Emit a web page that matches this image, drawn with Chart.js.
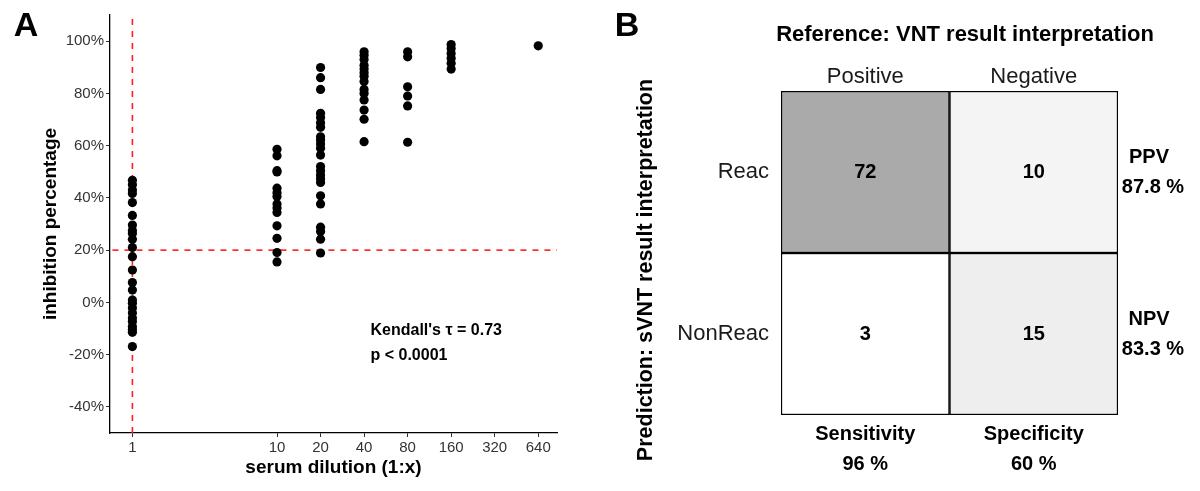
<!DOCTYPE html>
<html><head><meta charset="utf-8">
<script src="https://cdn.jsdelivr.net/npm/chart.js@4.4.1/dist/chart.umd.min.js"></script>
<style>
html,body{margin:0;padding:0;background:#fff;}
#wrap{position:relative;width:1200px;height:491px;overflow:hidden;}
#pa{position:absolute;left:0;top:0;width:600px;height:491px;}
#pb{position:absolute;left:600px;top:0;width:600px;height:491px;}
</style></head><body>
<div id="wrap">
<div id="pa"><canvas id="ca" width="600" height="491"></canvas></div>
<div id="pb"><canvas id="cb" width="600" height="491"></canvas></div>
</div>
<script>
const FONT = "'Liberation Sans', Arial, Helvetica, sans-serif";

// ---------- Panel A data ----------
const dilutions = [1, 10, 20, 40, 80, 160, 640];
const inhib_1   = [46.7, 45.0, 43.0, 41.7, 38.2, 33.3, 29.6, 27.5, 26.4, 24.2, 21.0, 17.5, 12.4, 7.6, 4.7, 0.9, -0.3, -2.2, -4.1, -6.0, -7.3, -9.2, -10.4, -11.4, -16.9];
const inhib_10  = [58.6, 56.1, 50.4, 49.9, 43.7, 42.0, 40.5, 37.7, 36.1, 34.4, 29.3, 24.5, 19.1, 15.5];
const inhib_20  = [89.9, 86.0, 81.5, 72.4, 70.8, 68.8, 67.0, 63.4, 62.2, 60.6, 59.0, 56.4, 52.0, 50.4, 48.8, 47.3, 45.9, 40.8, 37.7, 28.8, 27.1, 24.2, 18.9];
const inhib_40  = [95.9, 94.6, 93.0, 90.8, 89.3, 87.9, 86.6, 84.5, 81.5, 80.0, 77.5, 73.6, 70.1, 61.5];
const inhib_80  = [95.9, 94.0, 82.5, 79.0, 75.2, 61.3];
const inhib_160 = [98.7, 97.2, 95.3, 93.4, 91.5, 89.3];
const inhib_640 = [98.2];
const xTickValues = [1, 10, 20, 40, 80, 160, 320, 640];
const yTickValues = [-40, -20, 0, 20, 40, 60, 80, 100];
const cutoffDilution = 1;
const cutoffInhibition = 20;
const statLines = ["Kendall's \u03C4 = 0.73", "p < 0.0001"];
const statPosX = 44.3;
const statPosY = [-10.7, -20.3];

// ---------- Panel B data ----------
const refCats  = ['Positive', 'Negative'];
const predCats = ['Reac', 'NonReac'];
const counts   = [[72, 10], [3, 15]];           // rows: prediction, cols: reference
const cellFill = [['#aaaaaa', '#f4f4f4'], ['#ffffff', '#eeeeee']];
const rowStats = [['PPV', '87.8 %'], ['NPV', '83.3 %']];
const colStats = [['Sensitivity', '96 %'], ['Specificity', '60 %']];

// ---------- Panel A chart ----------
const groups = [inhib_1, inhib_10, inhib_20, inhib_40, inhib_80, inhib_160, inhib_640];
const pts = [];
groups.forEach((arr, i) => arr.forEach(v => pts.push({x: dilutions[i], y: v})));
const xMin = 0.728, xMax = 863, yMin = -50, yMax = 110;

const annA = {
  id: 'annA',
  afterDraw(chart) {
    const ctx = chart.ctx, xs = chart.scales.x, ys = chart.scales.y;
    ctx.save();
    ctx.fillStyle = '#000';
    ctx.textAlign = 'center'; ctx.textBaseline = 'middle';
    ctx.font = `bold 34px ${FONT}`;
    ctx.fillText('A', 26, 27);
    ctx.font = `bold 16px ${FONT}`;
    ctx.textAlign = 'left';
    statLines.forEach((t, i) => ctx.fillText(t, xs.getPixelForValue(statPosX), ys.getPixelForValue(statPosY[i])));
    ctx.restore();
  }
};

new Chart(document.getElementById('ca'), {
  type: 'scatter',
  data: {
    datasets: [
      { type: 'scatter', data: pts, backgroundColor: '#000', borderColor: '#000', pointRadius: 4.6, pointHoverRadius: 4.6, borderWidth: 0, order: 0 },
      { type: 'line', data: [{x: cutoffDilution, y: yMin}, {x: cutoffDilution, y: yMax}], borderColor: '#ff2020', borderWidth: 1.6, borderDash: [6, 6], pointRadius: 0, fill: false, order: 1 },
      { type: 'line', data: [{x: xMin, y: cutoffInhibition}, {x: xMax, y: cutoffInhibition}], borderColor: '#ff2020', borderWidth: 1.6, borderDash: [6, 6], pointRadius: 0, fill: false, order: 1 }
    ]
  },
  options: {
    responsive: false, animation: false, devicePixelRatio: 1,
    layout: { padding: { left: 0, top: 15, right: 43, bottom: 0 } },
    plugins: { legend: { display: false }, tooltip: { enabled: false } },
    scales: {
      x: {
        type: 'logarithmic', min: xMin, max: xMax,
        afterBuildTicks: s => { s.ticks = xTickValues.map(v => ({value: v})); },
        afterFit: s => { s.height = 58; },
        ticks: { callback: v => String(v), autoSkip: false, maxRotation: 0, color: '#333', padding: 2, font: { family: FONT, size: 15 } },
        grid: { drawOnChartArea: false, drawTicks: true, tickLength: 4, color: '#333', lineWidth: 1 },
        border: { display: true, color: '#000', width: 1.3 },
        title: { display: true, text: 'serum dilution (1:x)', color: '#000', font: { family: FONT, size: 19, weight: 'bold' }, padding: { top: 0, bottom: 12 } }
      },
      y: {
        type: 'linear', min: yMin, max: yMax,
        afterBuildTicks: s => { s.ticks = yTickValues.map(v => ({value: v})); },
        afterFit: s => { s.width = 110; },
        ticks: { callback: v => v + '%', color: '#333', padding: 2, font: { family: FONT, size: 15 } },
        grid: { drawOnChartArea: false, drawTicks: true, tickLength: 4, color: '#333', lineWidth: 1 },
        border: { display: true, color: '#000', width: 1.3 },
        title: { display: true, text: 'inhibition percentage', color: '#000', font: { family: FONT, size: 19, weight: 'bold' }, padding: { top: 39, bottom: 0 } }
      }
    }
  },
  plugins: [annA]
});

// ---------- Panel B chart ----------
const nRows = predCats.length;
const bDatasets = predCats.map((p, i) => ({
  label: p,
  data: refCats.map(() => [nRows - 1 - i, nRows - i]),
  backgroundColor: cellFill[i],
  borderColor: '#000', borderWidth: 1.5, borderSkipped: false,
  grouped: false, barPercentage: 1, categoryPercentage: 1
}));

const annB = {
  id: 'annB',
  afterDraw(chart) {
    const ctx = chart.ctx, xs = chart.scales.x, ys = chart.scales.y, ca = chart.chartArea;
    ctx.save();
    ctx.fillStyle = '#000';
    ctx.textAlign = 'center'; ctx.textBaseline = 'middle';
    ctx.font = `bold 34px ${FONT}`;
    ctx.fillText('B', 27, 27);
    ctx.font = `bold 22px ${FONT}`;
    ctx.fillText('Reference: VNT result interpretation', 365, 35);
    ctx.save();
    ctx.font = `bold 21.5px ${FONT}`;
    ctx.translate(46, 270); ctx.rotate(-Math.PI / 2);
    ctx.fillText('Prediction: sVNT result interpretation', 0, 0);
    ctx.restore();
    ctx.font = `bold 20px ${FONT}`;
    counts.forEach((row, i) => row.forEach((c, j) => {
      ctx.fillText(String(c), xs.getPixelForValue(j), ys.getPixelForValue(nRows - i - 0.5));
    }));
    rowStats.forEach((s, i) => {
      const yc = ys.getPixelForValue(nRows - i - 0.5);
      ctx.fillText(s[0], ca.right + 31, yc - 15);
      ctx.fillText(s[1], ca.right + 35, yc + 15);
    });
    colStats.forEach((s, j) => {
      const xc = xs.getPixelForValue(j);
      ctx.fillText(s[0], xc, ca.bottom + 19);
      ctx.fillText(s[1], xc, ca.bottom + 49);
    });
    ctx.restore();
  }
};

new Chart(document.getElementById('cb'), {
  type: 'bar',
  data: { labels: refCats, datasets: bDatasets },
  options: {
    responsive: false, animation: false, devicePixelRatio: 1,
    layout: { padding: { left: 0, top: 0, right: 82, bottom: 76 } },
    plugins: { legend: { display: false }, tooltip: { enabled: false } },
    scales: {
      x: {
        type: 'category', position: 'top', offset: true,
        afterFit: s => { s.height = 91; },
        ticks: { color: '#1a1a1a', padding: 1, font: { family: FONT, size: 22 } },
        grid: { display: false, drawTicks: false },
        border: { display: false }
      },
      y: {
        type: 'linear', min: 0, max: nRows,
        afterBuildTicks: s => { s.ticks = predCats.map((p, i) => ({value: nRows - i - 0.5})); },
        afterFit: s => { s.width = 181; },
        ticks: { callback: v => predCats[nRows - 1 - Math.floor(v)], color: '#1a1a1a', padding: 12, font: { family: FONT, size: 22 } },
        grid: { display: false, drawTicks: false },
        border: { display: false }
      }
    }
  },
  plugins: [annB]
});
</script>
</body></html>
